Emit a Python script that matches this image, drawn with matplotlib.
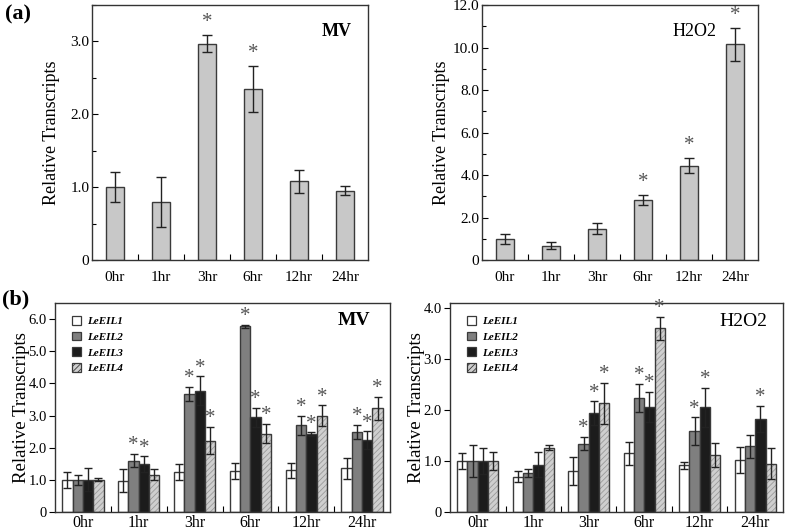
import numpy as np
import matplotlib
matplotlib.use("Agg")
import matplotlib.pyplot as plt
from matplotlib.patches import Patch
from matplotlib.ticker import FixedLocator, MultipleLocator, FuncFormatter

plt.rcParams['font.family'] = ['Liberation Serif', 'DejaVu Serif']
plt.rcParams['hatch.linewidth'] = 0.6

times = ['0hr', '1hr', '3hr', '6hr', '12hr', '24hr']
genes = ['LeEIL1', 'LeEIL2', 'LeEIL3', 'LeEIL4']

# (a) single gene
mv_a = [1.0, 0.80, 2.97, 2.35, 1.08, 0.95]
mv_a_err = [0.21, 0.34, 0.12, 0.32, 0.16, 0.06]
mv_a_sig = [False, False, True, True, False, False]

h2o2_a = [1.0, 0.68, 1.48, 2.82, 4.44, 10.16]
h2o2_a_err = [0.24, 0.18, 0.27, 0.23, 0.35, 0.78]
h2o2_a_sig = [False, False, False, True, True, True]

# (b) four genes, rows = genes, cols = time points
mv_b = [[1.0, 0.97, 1.25, 1.28, 1.30, 1.36],
        [1.0, 1.60, 3.67, 5.77, 2.70, 2.49],
        [1.0, 1.49, 3.77, 2.94, 2.42, 2.23],
        [1.0, 1.16, 2.22, 2.44, 2.99, 3.22]]
mv_b_err = [[0.25, 0.36, 0.24, 0.25, 0.23, 0.33],
            [0.15, 0.21, 0.22, 0.05, 0.30, 0.23],
            [0.36, 0.24, 0.45, 0.30, 0.06, 0.28],
            [0.05, 0.18, 0.42, 0.31, 0.33, 0.36]]
mv_b_sig = [[0, 0, 0, 0, 0, 0],
            [0, 1, 1, 1, 1, 1],
            [0, 1, 1, 1, 1, 1],
            [0, 0, 1, 1, 1, 1]]

h2o2_b = [[1.0, 0.69, 0.80, 1.15, 0.92, 1.02],
          [1.0, 0.77, 1.34, 2.24, 1.59, 1.29],
          [1.0, 0.93, 1.94, 2.06, 2.05, 1.82],
          [1.0, 1.26, 2.13, 3.60, 1.12, 0.95]]
h2o2_b_err = [[0.15, 0.11, 0.27, 0.22, 0.07, 0.26],
              [0.31, 0.08, 0.13, 0.27, 0.27, 0.23],
              [0.25, 0.25, 0.23, 0.30, 0.39, 0.26],
              [0.17, 0.05, 0.40, 0.23, 0.23, 0.30]]
h2o2_b_sig = [[0, 0, 0, 0, 0, 0],
              [0, 0, 1, 1, 1, 0],
              [0, 0, 1, 1, 1, 1],
              [0, 0, 1, 1, 0, 0]]

gene_colors = ['white', '#7f7f7f', '#1c1c1c', '#cfcfcf']
edge = '#3a3a3a'
star_color = '#555555'


def fmt(v, pos):
    return '0' if v == 0 else f'{v:.1f}'


def style_axes(ax, ymax, major, minor, tick_fs, pad_x, ydir):
    ax.set_xlim(-0.5, len(times) - 0.5)
    ax.set_ylim(0, ymax)
    ax.yaxis.set_major_locator(MultipleLocator(major))
    if minor:
        ax.yaxis.set_minor_locator(MultipleLocator(minor))
    ax.yaxis.set_major_formatter(FuncFormatter(fmt))
    ax.set_xticks(range(len(times)))
    ax.set_xticklabels(times)
    ax.xaxis.set_minor_locator(FixedLocator(np.arange(0.5, len(times) - 0.5, 1)))
    ax.tick_params(axis='x', which='major', length=0, pad=pad_x, labelsize=tick_fs)
    ax.tick_params(axis='x', which='minor', direction='in', length=4, width=0.8)
    ax.tick_params(axis='y', which='both', direction=ydir, labelsize=tick_fs, width=0.8)
    ax.tick_params(axis='y', which='major', length=4, pad=2)
    ax.tick_params(axis='y', which='minor', length=3)
    for s in ax.spines.values():
        s.set_linewidth(1.0)
        s.set_color('#333333')


fig = plt.figure(figsize=(7.87, 5.30), dpi=100)

# ---------------- panel (a)
axes_a = [fig.add_axes([0.1169, 0.5094, 0.3507, 0.4811]),
          fig.add_axes([0.6125, 0.5094, 0.3507, 0.4811])]
data_a = [(mv_a, mv_a_err, mv_a_sig, 3.5, 1.0, 0.5, 'MV', 0.94),
          (h2o2_a, h2o2_a_err, h2o2_a_sig, 12.0, 2.0, 1.0, 'H2O2', 0.85)]
for ax, (vals, errs, sig, ymax, major, minor, name, tx) in zip(axes_a, data_a):
    x = np.arange(len(times))
    ax.bar(x, vals, width=0.41, color='#c8c8c8', edgecolor=edge, linewidth=1.0)
    ax.errorbar(x, vals, yerr=errs, fmt='none', ecolor='#222222', elinewidth=1.0,
                capsize=3.5, capthick=1.0)
    for xi, v, e, s in zip(x, vals, errs, sig):
        if s:
            ax.annotate('*', (xi, v + e), xytext=(0, 2), textcoords='offset points',
                        ha='center', va='bottom', fontsize=15, color=star_color)
    style_axes(ax, ymax, major, minor, 11, 8, 'in')
    ax.set_ylabel('Relative Transcripts', fontsize=13)
    ax.yaxis.set_label_coords(-0.116, 0.5)
    ax.text(tx, 0.895, name, transform=ax.transAxes, ha='right', va='center',
            fontsize=13, fontweight='bold' if name == 'MV' else 'normal')

# ---------------- panel (b)
axes_b = [fig.add_axes([0.0699, 0.0340, 0.4257, 0.3943]),
          fig.add_axes([0.5718, 0.0340, 0.4231, 0.3943])]
data_b = [(mv_b, mv_b_err, mv_b_sig, 6.5, 'MV', 0.94, 0.915),
          (h2o2_b, h2o2_b_err, h2o2_b_sig, 4.1, 'H2O2', 0.952, 0.912)]
w = 0.185
for ax, (vals, errs, sig, ymax, name, tx, ty) in zip(axes_b, data_b):
    x = np.arange(len(times))
    for g in range(len(genes)):
        xg = x + (g - 1.5) * w
        if g == 3:
            ax.bar(xg, vals[g], width=w, color=gene_colors[g], edgecolor='#9a9a9a',
                   hatch='//////', linewidth=0)
            ax.bar(xg, vals[g], width=w, fill=False, edgecolor=edge, linewidth=1.0)
        else:
            ax.bar(xg, vals[g], width=w, color=gene_colors[g], edgecolor=edge,
                   linewidth=1.0)
        ax.errorbar(xg, vals[g], yerr=errs[g], fmt='none', ecolor='#222222',
                    elinewidth=1.0, capsize=2.8, capthick=1.0)
        for xi, v, e, s in zip(xg, vals[g], errs[g], sig[g]):
            if s:
                ax.annotate('*', (xi, v + e), xytext=(0, -1), textcoords='offset points',
                            ha='center', va='bottom', fontsize=15, color=star_color)
    style_axes(ax, ymax, 1.0, None, 10.5, 2, 'out')
    ax.xaxis.set_tick_params(which='major', labelsize=11.5)
    ax.set_ylabel('Relative Transcripts', fontsize=13.5)
    ax.yaxis.set_label_coords(-0.076, 0.5)
    ax.text(tx, ty, name, transform=ax.transAxes, ha='right', va='center',
            fontsize=14, fontweight='bold' if name == 'MV' else 'normal')
    handles = []
    for g in range(len(genes)):
        handles.append(Patch(facecolor=gene_colors[g], edgecolor=edge, linewidth=0.9,
                             hatch='//////' if g == 3 else None))
    leg = ax.legend(handles, genes, loc='upper left', bbox_to_anchor=(0.02, 0.985),
                    frameon=False, handlelength=0.8, handleheight=0.8,
                    handletextpad=0.6, labelspacing=0.5,
                    prop={'size': 8, 'weight': 'bold', 'style': 'italic'})

fig.text(0.006, 0.972, '(a)', fontsize=16, fontweight='bold', va='center', ha='left')
fig.text(0.003, 0.434, '(b)', fontsize=16, fontweight='bold', va='center', ha='left')

fig.savefig('out.png', dpi=100)
